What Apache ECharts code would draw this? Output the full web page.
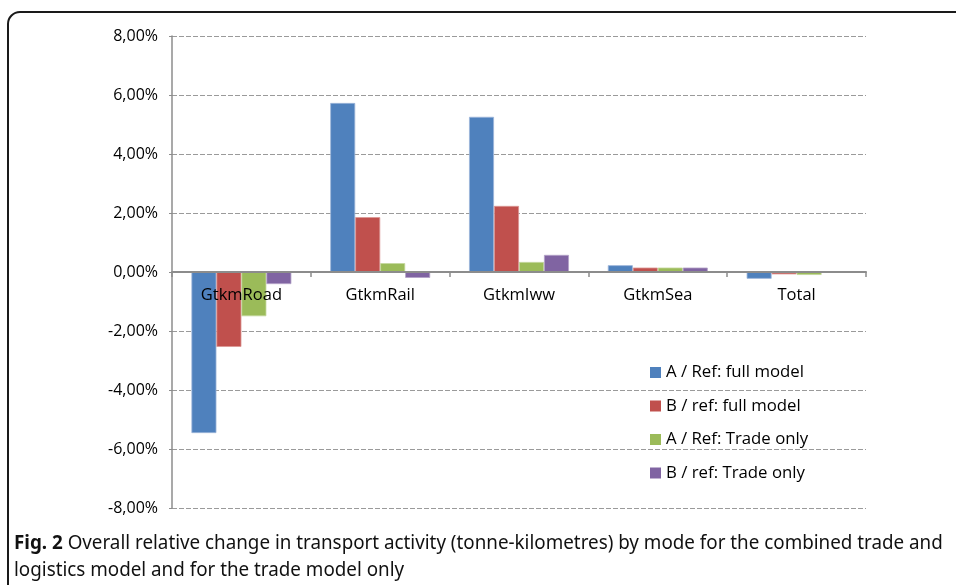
<!DOCTYPE html>
<html>
<head>
<meta charset="utf-8">
<script src="https://cdn.jsdelivr.net/npm/echarts@6/dist/echarts.min.js"></script>
<style>
html,body{margin:0;padding:0;background:#fff;}
#c{width:956px;height:585px;}
</style>
</head>
<body>
<div id="c"></div>
<script>
const categories = ['GtkmRoad', 'GtkmRail', 'GtkmIww', 'GtkmSea', 'Total'];
const seriesNames = ['A / Ref: full model', 'B / ref: full model', 'A / Ref: Trade only', 'B / ref: Trade only'];
const aRefFull = [-5.46, 5.73, 5.26, 0.23, -0.23];
const bRefFull = [-2.54, 1.86, 2.24, 0.15, -0.08];
const aRefTrade = [-1.50, 0.30, 0.34, 0.15, -0.10];
const bRefTrade = [-0.41, -0.20, 0.58, 0.15, -0.03];
const yTicks = { min: -8, max: 8, interval: 2 };
const captionBold = 'Fig. 2';
const captionLine1 = ' Overall relative change in transport activity (tonne-kilometres) by mode for the combined trade and';
const captionLine2 = 'logistics model and for the trade model only';

const colors = ['#4F81BD', '#C0504D', '#9BBB59', '#8064A2'];
const borders = ['#9DB5D9', '#DA9593', '#C3D69B', '#B2A1C7'];
const values = [aRefFull, bRefFull, aRefTrade, bRefTrade];
const font = '"Open Sans", "Noto Sans", sans-serif';
const capFont = '"Noto Sans", "Open Sans", sans-serif';

const chart = echarts.init(document.getElementById('c'), null, { renderer: 'canvas' });
chart.setOption({
  animation: false,
  backgroundColor: '#fff',
  grid: { left: 172, right: 90, top: 36, bottom: 77, containLabel: false },
  legend: {
    orient: 'vertical',
    left: 645,
    top: 359,
    itemWidth: 11,
    itemHeight: 11,
    itemGap: 16.5,
    icon: 'rect',
    itemStyle: { borderWidth: 0 },
    textStyle: { fontFamily: font, fontSize: 16.8, color: '#000' },
    data: seriesNames
  },
  xAxis: {
    type: 'category',
    data: categories,
    z: 10,
    offset: -236,
    axisLine: { onZero: false, lineStyle: { color: '#8c8c8c', width: 2 } },
    axisTick: { show: true, length: 5, inside: false, lineStyle: { color: '#8c8c8c', width: 1.5 } },
    axisLabel: { fontFamily: font, fontSize: 16.5, color: '#000', margin: 15 },
    splitLine: { show: false }
  },
  yAxis: {
    type: 'value',
    min: yTicks.min,
    max: yTicks.max,
    interval: yTicks.interval,
    axisLine: { show: true, lineStyle: { color: '#8c8c8c', width: 1.5 } },
    axisTick: { show: true, length: 3, lineStyle: { color: '#8c8c8c' } },
    axisLabel: {
      fontFamily: font, fontSize: 16, color: '#000', margin: 14,
      formatter: v => v.toFixed(2).replace('.', ',') + '%'
    },
    splitLine: { show: true, lineStyle: { color: '#9a9a9a', type: [5, 2], width: 1 } }
  },
  series: values.map((d, i) => ({
    name: seriesNames[i],
    type: 'bar',
    data: d,
    barGap: '0%',
    barCategoryGap: '28%',
    itemStyle: { color: colors[i], borderColor: borders[i], borderWidth: 0.8 }
  })),
  graphic: [
    {
      type: 'rect',
      shape: { x: 8, y: 12, width: 980, height: 620, r: 12 },
      style: { fill: 'none', stroke: '#1a1a1a', lineWidth: 2 },
      silent: true
    },
    {
      type: 'text',
      x: 14,
      y: 533,
      scaleX: 0.94,
      style: {
        text: '{b|' + captionBold + '}' + captionLine1,
        font: '20px ' + capFont,
        fill: '#111',
        rich: {
          b: { font: 'bold 20px ' + capFont, fill: '#111' }
        }
      }
    },
    {
      type: 'text',
      x: 14,
      y: 560,
      scaleX: 0.94,
      style: {
        text: captionLine2,
        font: '20px ' + capFont,
        fill: '#111'
      }
    }
  ]
});
</script>
</body>
</html>
